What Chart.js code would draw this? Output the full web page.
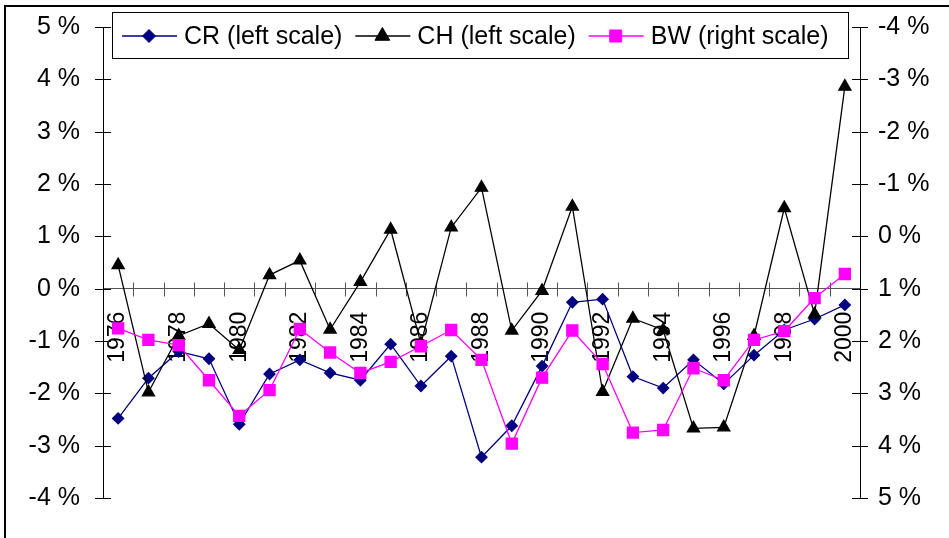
<!DOCTYPE html>
<html><head><meta charset="utf-8">
<script src="https://cdn.jsdelivr.net/npm/chart.js@4/dist/chart.umd.min.js"></script>
<style>html,body{margin:0;padding:0;background:#fff;} #wrap{position:relative;width:949px;height:538px;}</style>
</head><body><div id="wrap"><canvas id="c"></canvas></div>
<script>
const years = ['1976','1977','1978','1979','1980','1981','1982','1983','1984','1985','1986','1987','1988','1989','1990','1991','1992','1993','1994','1995','1996','1997','1998','1999','2000'];
const crValues = [-2.48,-1.71,-1.20,-1.34,-2.59,-1.63,-1.36,-1.61,-1.75,-1.06,-1.86,-1.29,-3.22,-2.62,-1.48,-0.26,-0.20,-1.68,-1.90,-1.36,-1.82,-1.27,-0.79,-0.58,-0.31];
const chValues = [0.45,-1.98,-0.90,-0.67,-1.17,0.26,0.54,-0.78,0.13,1.13,-1.05,1.17,1.93,-0.80,-0.04,1.57,-1.97,-0.57,-0.79,-2.67,-2.65,-0.90,1.54,-0.49,3.86];
const bwValues = [1.76,1.98,2.08,2.75,3.43,2.94,1.77,2.22,2.61,2.40,2.10,1.79,2.36,3.96,2.70,1.80,2.44,3.75,3.70,2.52,2.75,1.98,1.81,1.18,0.72];
const seriesNames = ['CR (left scale)','CH (left scale)','BW (right scale)'];
const leftTicks = [-4,-3,-2,-1,0,1,2,3,4,5];
const rightTicks = [-4,-3,-2,-1,0,1,2,3,4,5];

const FONT = '"Liberation Sans", Arial, sans-serif';
const pct = v => v + ' %';

function drawMarker(ctx, style, x, y, r, color) {
  ctx.save();
  ctx.fillStyle = color; ctx.strokeStyle = color; ctx.lineWidth = 1;
  ctx.beginPath();
  if (style === 'rectRot') {
    ctx.moveTo(x, y - r); ctx.lineTo(x + r, y); ctx.lineTo(x, y + r); ctx.lineTo(x - r, y);
  } else if (style === 'triangle') {
    const e = Math.sqrt(3) * r, h = e * Math.sqrt(3) / 2;
    ctx.moveTo(x - e / 2, y + h / 3); ctx.lineTo(x + e / 2, y + h / 3); ctx.lineTo(x, y - 2 * h / 3);
  } else {
    const s = r * Math.SQRT1_2;
    ctx.rect(x - s, y - s, 2 * s, 2 * s);
  }
  ctx.closePath(); ctx.fill(); ctx.stroke();
  ctx.restore();
}

const framePlugin = {
  id: 'frame',
  beforeDraw(chart) {
    const ctx = chart.ctx;
    ctx.save();
    ctx.strokeStyle = '#000'; ctx.lineWidth = 2;
    ctx.beginPath();
    ctx.moveTo(5, chart.height + 5); ctx.lineTo(5, 6); ctx.lineTo(chart.width + 5, 6);
    ctx.stroke();
    ctx.restore();
  }
};

const crossTicks = {
  id: 'crossTicks',
  beforeDatasetsDraw(chart) {
    const ctx = chart.ctx, s = chart.scales;
    ctx.save();
    ctx.lineWidth = 1;
    ctx.strokeStyle = '#000';
    ctx.beginPath();
    s.y.ticks.forEach(t => { const p = Math.round(s.y.getPixelForValue(t.value)) + 0.5; ctx.moveTo(s.y.right - 8, p); ctx.lineTo(s.y.right + 8, p); });
    s.y1.ticks.forEach(t => { const p = Math.round(s.y1.getPixelForValue(t.value)) + 0.5; ctx.moveTo(s.y1.left - 8, p); ctx.lineTo(s.y1.left + 8, p); });
    ctx.stroke();
    ctx.strokeStyle = '#555';
    ctx.beginPath();
    const y0 = Math.round(s.y.getPixelForValue(0)) + 0.5;
    for (let i = 1; i < years.length; i++) {
      const x = Math.round((s.x.getPixelForValue(i - 1) + s.x.getPixelForValue(i)) / 2) + 0.5;
      ctx.moveTo(x, y0 - 7); ctx.lineTo(x, y0 + 7);
    }
    ctx.stroke();
    ctx.restore();
  }
};

const boxLegend = {
  id: 'boxLegend',
  afterDraw(chart) {
    const ctx = chart.ctx;
    const left = 112.5, top = 12.5, w = 736, h = 46, cy = 36;
    ctx.save();
    ctx.fillStyle = '#fff';
    ctx.fillRect(left, top, w, h);
    ctx.strokeStyle = '#000'; ctx.lineWidth = 1;
    ctx.strokeRect(left, top, w, h);
    ctx.font = '25px ' + FONT;
    ctx.textBaseline = 'middle'; ctx.textAlign = 'left';
    let x = 122;
    const sizes = {rectRot: 6.5, triangle: 8.5, rect: 8.5};
    chart.data.datasets.slice().sort((a, b) => a.legendIndex - b.legendIndex).forEach(ds => {
      ctx.strokeStyle = ds.borderColor; ctx.lineWidth = 1.5;
      ctx.beginPath(); ctx.moveTo(x, cy); ctx.lineTo(x + 55, cy); ctx.stroke();
      drawMarker(ctx, ds.pointStyle, x + 27, cy, sizes[ds.pointStyle], ds.pointBackgroundColor);
      ctx.fillStyle = '#000';
      ctx.fillText(ds.label, x + 62, cy + 1);
      x += 62 + ctx.measureText(ds.label).width + 13;
    });
    ctx.restore();
  }
};

new Chart(document.getElementById('c'), {
  type: 'line',
  data: {
    labels: years,
    datasets: [
      { label: seriesNames[0], legendIndex: 0, data: crValues, yAxisID: 'y', order: 3,
        borderColor: '#000080', backgroundColor: '#000080', pointBackgroundColor: '#000080', pointBorderColor: '#000080',
        borderWidth: 1.3, pointStyle: 'rectRot', pointRadius: 5.5, tension: 0 },
      { label: seriesNames[1], legendIndex: 1, data: chValues, yAxisID: 'y', order: 2,
        borderColor: '#000000', backgroundColor: '#000000', pointBackgroundColor: '#000000', pointBorderColor: '#000000',
        borderWidth: 1.3, pointStyle: 'triangle', pointRadius: 7, tension: 0 },
      { label: seriesNames[2], legendIndex: 2, data: bwValues, yAxisID: 'y1', order: 1,
        borderColor: '#FF00FF', backgroundColor: '#FF00FF', pointBackgroundColor: '#FF00FF', pointBorderColor: '#FF00FF',
        borderWidth: 1.3, pointStyle: 'rect', pointRadius: 7.8, tension: 0 }
    ]
  },
  options: {
    responsive: true, maintainAspectRatio: false, animation: false,
    layout: { padding: { top: 27, bottom: 40, left: 0, right: 0 } },
    plugins: { legend: { display: false }, tooltip: { enabled: false } },
    elements: { point: { borderWidth: 1 } },
    scales: {
      x: {
        type: 'category', offset: true, position: { y: 0 }, z: 1,
        afterFit: s => { s.paddingLeft = 0; s.paddingRight = 0; },
        grid: { display: true, drawOnChartArea: false, drawTicks: false, offset: true },
        border: { display: true, color: '#555', width: 1 },
        ticks: {
          autoSkip: false, minRotation: 90, maxRotation: 90, padding: 23, color: '#000',
          font: { family: FONT, size: 23 },
          callback: (v, i) => (i % 2 === 0 ? years[i] : '')
        }
      },
      y: {
        position: 'left', min: -4, max: 5,
        afterFit: s => { s.width = 103; s.paddingTop = 0; s.paddingBottom = 0; },
        afterBuildTicks: s => { s.ticks = leftTicks.map(v => ({ value: v })); },
        grid: { drawOnChartArea: false, drawTicks: false },
        border: { display: true, color: '#000', width: 1 },
        ticks: { padding: 23, color: '#000', font: { family: FONT, size: 25 }, callback: v => pct(v) }
      },
      y1: {
        position: 'right', min: -4, max: 5, reverse: true,
        afterFit: s => { s.width = 89; s.paddingTop = 0; s.paddingBottom = 0; },
        afterBuildTicks: s => { s.ticks = rightTicks.map(v => ({ value: v })); },
        grid: { drawOnChartArea: false, drawTicks: false },
        border: { display: true, color: '#000', width: 1 },
        ticks: { padding: 18, color: '#000', font: { family: FONT, size: 25 }, callback: v => pct(v) }
      }
    }
  },
  plugins: [framePlugin, crossTicks, boxLegend]
});
</script></body></html>
